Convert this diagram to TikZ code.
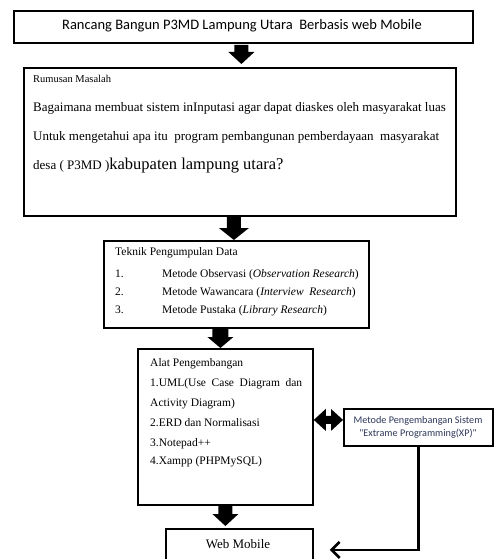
\documentclass[tikz,border=0pt]{standalone}
\usepackage{fontspec}
\setmainfont{Liberation Serif}
\newfontfamily\calibri{Carlito}
\usetikzlibrary{calc,arrows.meta}
\definecolor{xpblue}{RGB}{45,55,90}
\newcommand\blockdown[5]{%
  \fill let \p1=(#1), \p2=(#2) in
    (\x1-#3,\y1) -- (\x1+#3,\y1) -- (\x1+#3,\y2+#5) -- (\x1+#4,\y2+#5) -- (\x2,\y2)
    -- (\x1-#4,\y2+#5) -- (\x1-#3,\y2+#5) -- cycle;}
\newcommand\blockboth[5]{%
  \fill let \p1=(#1), \p2=(#2) in
    (\x1,\y1) -- (\x1+#5,\y1+#4) -- (\x1+#5,\y1+#3) -- (\x2-#5,\y1+#3) -- (\x2-#5,\y1+#4)
    -- (\x2,\y1) -- (\x2-#5,\y1-#4) -- (\x2-#5,\y1-#3) -- (\x1+#5,\y1-#3) -- (\x1+#5,\y1-#4) -- cycle;}
\begin{document}
\begin{tikzpicture}[x=1pt,y=-1pt,
  box/.style={draw,line width=1.8pt,rectangle,inner sep=0pt,anchor=north west},
  txt/.style={inner sep=0pt,anchor=base west},
  serifbody/.style={font=\fontsize{13}{15}\selectfont},
  tekfont/.style={font=\fontsize{11.5}{13}\selectfont},
  alatfont/.style={font=\fontsize{11.5}{13}\selectfont}]
\clip (0,0) rectangle (494,559);
\fill[white] (0,0) rectangle (494,559);
% boxes
\node[box,minimum width=459pt,minimum height=32pt] (b1) at (13,10) {};
\node[box,minimum width=432pt,minimum height=148pt] (b2) at (23,67) {};
\node[box,minimum width=265pt,minimum height=87pt] (b3) at (103,240) {};
\node[box,minimum width=175pt,minimum height=156pt] (b4) at (137,348) {};
\node[box,minimum width=149pt,minimum height=37pt] (b5) at (343,408) {};
\node[box,minimum width=147pt,minimum height=40pt] (b6) at (165,528) {};
% texts
\node[inner sep=0pt,anchor=base,font=\fontsize{14.5}{16}\calibri] (t1) at (242,30)
  {Rancang Bangun P3MD Lampung Utara\ \ Berbasis web Mobile};
\node[txt,font=\fontsize{10.5}{12}\selectfont] (t2a) at (33,83) {Rumusan Masalah};
\node[txt,serifbody] (t2b) at (33,112) {Bagaimana membuat sistem inInputasi agar dapat diaskes oleh masyarakat luas};
\node[txt,serifbody] (t2c) at (33,140) {Untuk mengetahui apa itu\ \ program pembangunan pemberdayaan\ \ masyarakat};
\node[txt,serifbody] (t2d) at (33,169) {desa ( P3MD )\fontsize{16.5}{18}\selectfont kabupaten lampung utara?};
\node[txt,tekfont] (t3a) at (115,255) {Teknik Pengumpulan Data};
\node[txt,tekfont] (t3b) at (115,277) {1.};
\node[txt,tekfont] (t3c) at (115,295) {2.};
\node[txt,tekfont] (t3d) at (115,313) {3.};
\node[txt,tekfont] (t3e) at (162,277) {Metode Observasi (\textit{Observation Research})};
\node[txt,tekfont] (t3f) at (162,295) {Metode Wawancara (\textit{Interview\ \ Research})};
\node[txt,tekfont] (t3g) at (162,313) {Metode Pustaka (\textit{Library Research})};
\node[txt,alatfont] (t4a) at (150,366) {Alat Pengembangan};
\node[txt,alatfont] (t4b) at (150,386) {\makebox[152pt][s]{1.UML(Use Case Diagram dan}};
\node[txt,alatfont] (t4c) at (150,406) {Activity Diagram)};
\node[txt,alatfont] (t4d) at (150,426) {2.ERD dan Normalisasi};
\node[txt,alatfont] (t4e) at (150,446) {3.Notepad++};
\node[txt,alatfont] (t4f) at (150,464) {4.Xampp (PHPMySQL)};
\node[inner sep=0pt,anchor=base,font=\fontsize{10.2}{11}\calibri,text=xpblue] (t5a) at (418,423) {Metode Pengembangan Sistem};
\node[inner sep=0pt,anchor=base,font=\fontsize{10.2}{11}\calibri,text=xpblue] (t5b) at (418,436) {"Extrame Programming(XP)"};
\node[inner sep=0pt,anchor=base,font=\fontsize{13}{15}\selectfont] (t6) at (238,548) {Web Mobile};
% block arrows
\coordinate (a1s) at ($(b1.south)+(-2,1)$);
\coordinate (a1e) at (a1s |- b2.north);
\blockdown{a1s}{$(a1e)+(0,-3)$}{7pt}{13pt}{12pt}
\coordinate (a2s) at ($(b2.south)+(-6,0)$);
\coordinate (a2e) at (a2s |- b3.north);
\blockdown{a2s}{a2e}{7pt}{15pt}{12pt}
\coordinate (a3s) at ($(b3.south)+(-16,0)$);
\coordinate (a3e) at (a3s |- b4.north);
\blockdown{a3s}{a3e}{8pt}{13pt}{11pt}
\coordinate (a4s) at (b4.south);
\coordinate (a4e) at (a4s |- b6.north);
\blockdown{a4s}{$(a4e)+(0,-2)$}{7pt}{13pt}{12pt}
\coordinate (d1) at ($(b4.east)+(0,-7)$);
\coordinate (d2) at (d1 -| b5.west);
\blockboth{d1}{d2}{4pt}{11pt}{12pt}
% connector from XP box to Web Mobile
\coordinate (c6) at ($(b6.east)+(16,1)$);
\draw[line width=2.6pt,-{Straight Barb[length=8pt,width=16pt,line width=2.6pt]}] (b5.south) |- (c6);
\end{tikzpicture}
\end{document}
